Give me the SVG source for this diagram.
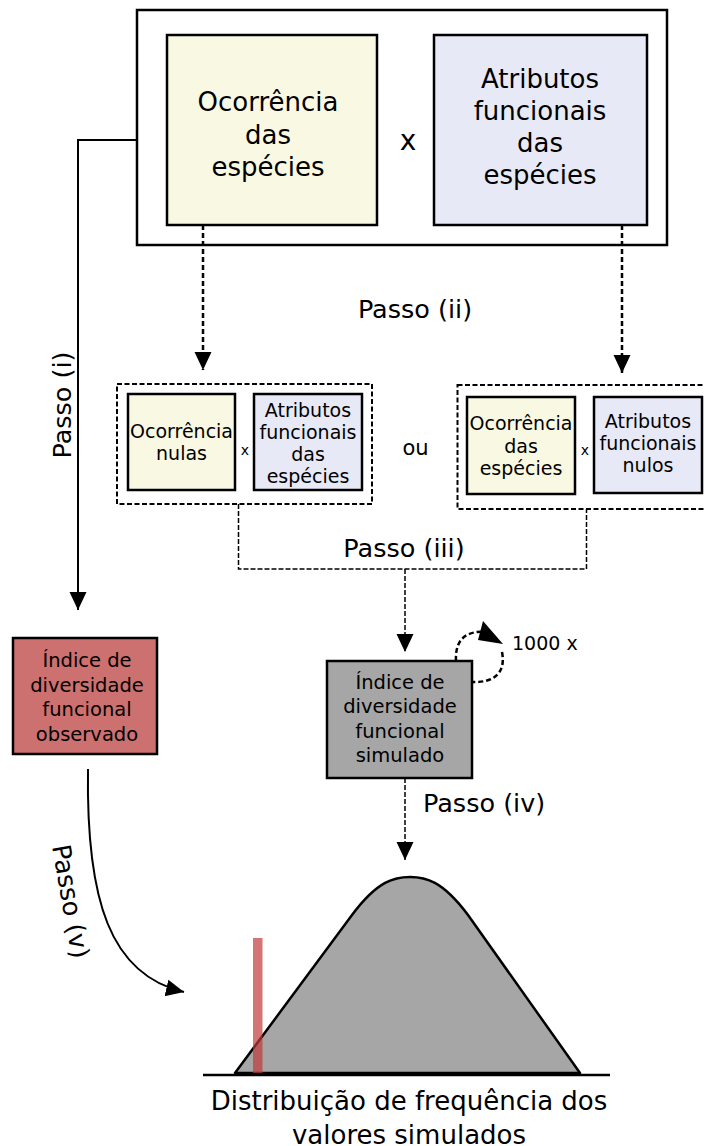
<svg xmlns="http://www.w3.org/2000/svg" width="704" height="1146" viewBox="0 0 704 1146">
<style>
text{font-family:"DejaVu Sans","Liberation Sans",sans-serif;fill:#000}
.t26{font-size:26px;text-anchor:middle}
.t18{font-size:19px;text-anchor:middle}
.t19{font-size:19.5px;text-anchor:middle}
.lbl{font-size:25.5px}
.solid{fill:none;stroke:#000;stroke-width:2}
.dash{fill:none;stroke:#000;stroke-width:2.5;stroke-dasharray:5,3}
.dashthin{fill:none;stroke:#000;stroke-width:1.5;stroke-dasharray:5,2}
.grp{fill:none;stroke:#000;stroke-width:2;stroke-dasharray:5,2.5}
.yel{fill:#f9f8e2;stroke:#000;stroke-width:2.5}
.blu{fill:#e8e9f6;stroke:#000;stroke-width:2.5}
</style>
<defs>
<marker id="ah" markerWidth="19" markerHeight="19" refX="18" refY="9" orient="auto" markerUnits="userSpaceOnUse">
<path d="M0,0.5 L18,9 L0,17.5 Z" fill="#000"/>
</marker>
</defs>
<rect width="704" height="1146" fill="#fff"/>

<g id="top-box">
<rect x="137" y="10" width="530" height="235" fill="#fff" stroke="#000" stroke-width="2.5"/>
</g>
<g id="ocorrencia">
<rect class="yel" x="167" y="35" width="210" height="190"/>
<text class="t26" x="268" y="111">Ocorrência</text>
<text class="t26" x="268" y="144">das</text>
<text class="t26" x="268" y="176">espécies</text>
</g>
<text x="408" y="150" style="font-size:28px;text-anchor:middle">x</text>
<g id="atributos">
<rect class="blu" x="434" y="35" width="213" height="190"/>
<text class="t26" x="540" y="88">Atributos</text>
<text class="t26" x="540" y="120">funcionais</text>
<text class="t26" x="540" y="152">das</text>
<text class="t26" x="540" y="184">espécies</text>
</g>

<g id="null-group-1">
<rect class="grp" x="117" y="384" width="255" height="120"/>
<rect class="yel" x="128" y="394" width="107" height="96"/>
<text class="t18" x="181.5" y="438">Ocorrência</text>
<text class="t18" x="181.5" y="460">nulas</text>
<text x="245" y="455" style="font-size:14px;text-anchor:middle">x</text>
<rect class="blu" x="254" y="394" width="108" height="96"/>
<text class="t18" x="308" y="417">Atributos</text>
<text class="t18" x="308" y="439">funcionais</text>
<text class="t18" x="308" y="461">das</text>
<text class="t18" x="308" y="483">espécies</text>
</g>
<text x="415.5" y="455" style="font-size:21px;text-anchor:middle">ou</text>
<g id="null-group-2">
<rect class="grp" x="457.5" y="385" width="256" height="124"/>
<rect class="yel" x="467" y="397" width="108" height="97"/>
<text class="t18" x="521" y="430">Ocorrência</text>
<text class="t18" x="521" y="453">das</text>
<text class="t18" x="521" y="475">espécies</text>
<text x="585" y="455" style="font-size:14px;text-anchor:middle">x</text>
<rect class="blu" x="594" y="397" width="108" height="96"/>
<text class="t18" x="648" y="428">Atributos</text>
<text class="t18" x="648" y="450">funcionais</text>
<text class="t18" x="648" y="472">nulos</text>
</g>

<g id="observado">
<rect x="13" y="638" width="144" height="116" fill="#cd7070" stroke="#000" stroke-width="2.5"/>
<text class="t19" x="87" y="667">Índice de</text>
<text class="t19" x="87" y="692">diversidade</text>
<text class="t19" x="87" y="716">funcional</text>
<text class="t19" x="87" y="741">observado</text>
</g>

<g id="simulado">
<rect x="327" y="661" width="145" height="117" fill="#a6a6a6" stroke="#000" stroke-width="2.5"/>
<text class="t19" x="400" y="689">Índice de</text>
<text class="t19" x="400" y="713">diversidade</text>
<text class="t19" x="400" y="738">funcional</text>
<text class="t19" x="400" y="762">simulado</text>
</g>

<g id="distribuicao">
<path d="M235,1073 L352,915 C378,880 395,877 410,877 C425,877 442,880 468,915 L580,1073 Z" fill="#a6a6a6" stroke="#000" stroke-width="2.5" stroke-linejoin="round"/>
<rect x="253" y="938" width="9.5" height="135" fill="#c03a3a" fill-opacity="0.7"/>
<line x1="203" y1="1075" x2="610" y2="1075" stroke="#000" stroke-width="2.5"/>
<text class="t26" x="409" y="1110">Distribuição de frequência dos</text>
<text class="t26" x="409" y="1144">valores simulados</text>
</g>

<g id="connectors">
<path class="solid" d="M137,140 H78 V610" marker-end="url(#ah)"/>
<path class="dash" d="M203,225 V370" marker-end="url(#ah)"/>
<path class="dash" d="M622,225 V373" marker-end="url(#ah)"/>
<path class="dashthin" d="M238.5,504 V569 H586.5 V509"/>
<path class="dashthin" d="M405,569 V652" marker-end="url(#ah)"/>
<path class="dash" d="M456,661 C455,640 465,630 488,632" stroke-width="3"/>
<path d="M483,621 L503,644 L478,640 Z" fill="#000"/>
<path class="dash" d="M502,652 C506,672 495,683 472,682" stroke-width="3"/>
<path class="dashthin" d="M405,778 V860" marker-end="url(#ah)"/>
<path class="solid" d="M88,769 C86,900 110,975 184,992" marker-end="url(#ah)"/>
</g>
<g id="labels">
<text class="lbl" x="415" y="318" text-anchor="middle">Passo (ii)</text>
<text class="lbl" x="0" y="0" text-anchor="middle" transform="translate(71,405) rotate(-90)">Passo (i)</text>
<text class="lbl" x="404" y="557" text-anchor="middle">Passo (iii)</text>
<text class="lbl" x="423" y="812">Passo (iv)</text>
<text class="lbl" x="0" y="0" text-anchor="middle" transform="translate(62,903) rotate(80)">Passo (v)</text>
<text x="512" y="650" style="font-size:19px">1000 x</text>
</g>
</svg>
